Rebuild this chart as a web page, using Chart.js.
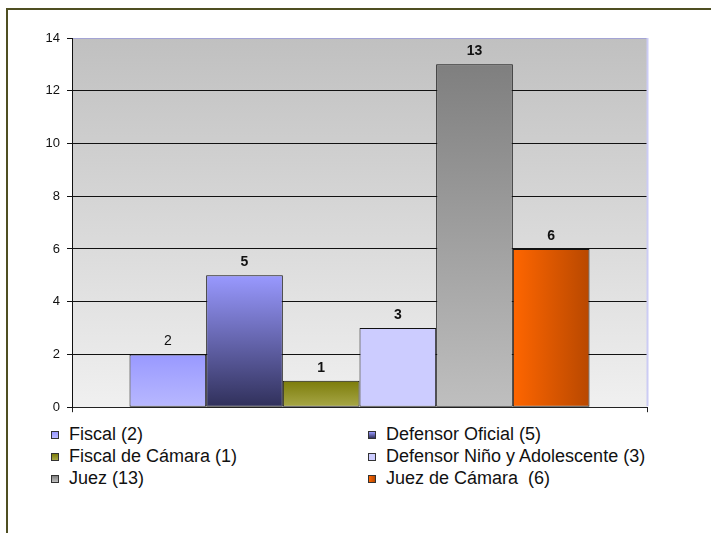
<!DOCTYPE html>
<html>
<head>
<meta charset="utf-8">
<script src="https://cdn.jsdelivr.net/npm/chart.js@4"></script>
<style>
  html, body { margin: 0; padding: 0; background: #fff; width: 711px; height: 533px; overflow: hidden; }
  #frame { position: absolute; left: 6px; top: 8px; width: 730px; height: 560px; border: 2px solid #4f4f22; box-sizing: border-box; }
  #c { position: absolute; left: 0; top: 0; }
  #legend { position: absolute; left: 51px; top: 423px; width: 640px; font-family: "Liberation Sans", Arial, sans-serif; font-size: 18px; line-height: 22px; color: #111; }
  .item { position: absolute; white-space: pre; display: flex; align-items: center; }
  .box { width: 6px; height: 6px; border: 1px solid #333; margin-right: 10px; margin-top: 1px; }
</style>
</head>
<body>
<div id="frame"></div>
<canvas id="c" width="711" height="422"></canvas>
<div id="legend"></div>
<script>
// Cargos y cantidades, tal como aparecen en el gráfico
const categories = ["Fiscal", "Defensor Oficial", "Fiscal de Cámara", "Defensor Niño y Adolescente", "Juez", "Juez de Cámara"];
const values = [2, 5, 1, 3, 13, 6];
const legendLabels = ["Fiscal (2)", "Defensor Oficial (5)", "Fiscal de Cámara (1)", "Defensor Niño y Adolescente (3)", "Juez (13)", "Juez de Cámara  (6)"];
const boldValue = [false, true, true, true, true, true];
const yMax = 14;
const yStep = 2;

// colores: [inicio, fin, dirección]
const FILLS = [
  ["#9999ff", "#b8b8ff", "v"],
  ["#9999ff", "#30305a", "v"],
  ["#7c7c0a", "#a8a848", "v"],
  ["#ccccff", "#ccccff", "v"],
  ["#7f7f7f", "#bfbfbf", "v"],
  ["#ff6600", "#b84800", "h"],
];
const FONT = "'Liberation Sans', Arial, sans-serif";
const CAT_PCT = 0.8;

function barFill(ctx) {
  const chart = ctx.chart;
  const area = chart.chartArea;
  const [c0, c1, dir] = FILLS[ctx.datasetIndex];
  if (!area) return c0;
  const g2d = chart.ctx;
  let g;
  if (dir === "h") {
    const bw = (area.right - area.left) * CAT_PCT / values.length;
    const left = chart.scales.x.getPixelForValue(0) - bw * values.length / 2 + bw * ctx.datasetIndex;
    g = g2d.createLinearGradient(left, 0, left + bw, 0);
  } else {
    const y = chart.scales.y;
    g = g2d.createLinearGradient(0, y.getPixelForValue(values[ctx.datasetIndex]), 0, y.getPixelForValue(0));
  }
  g.addColorStop(0, c0);
  g.addColorStop(1, c1);
  return g;
}

const plotFrame = {
  id: "plotFrame",
  beforeDraw(chart) {
    const { ctx, chartArea: a } = chart;
    const g = ctx.createLinearGradient(0, a.top, 0, a.bottom);
    g.addColorStop(0, "#c0c0c0");
    g.addColorStop(1, "#f0f0f0");
    ctx.save();
    ctx.fillStyle = g;
    ctx.fillRect(a.left, a.top, a.right - a.left, a.bottom - a.top);
    ctx.restore();
  },
  afterDraw(chart) {
    const { ctx, chartArea: a } = chart;
    ctx.save();
    ctx.strokeStyle = "#ccccf4";
    ctx.lineWidth = 2;
    ctx.beginPath();
    ctx.moveTo(a.right + 0.5, a.top);
    ctx.lineTo(a.right + 0.5, a.bottom - 1);
    ctx.stroke();
    ctx.restore();
  },
};

const valueLabels = {
  id: "valueLabels",
  afterDatasetsDraw(chart) {
    const ctx = chart.ctx;
    ctx.save();
    ctx.fillStyle = "#111";
    ctx.textAlign = "center";
    ctx.textBaseline = "middle";
    chart.data.datasets.forEach((ds, i) => {
      const el = chart.getDatasetMeta(i).data[0];
      ctx.font = (boldValue[i] ? "bold " : "") + "14px " + FONT;
      ctx.fillText(String(ds.data[0]), el.x, el.y - 13);
    });
    ctx.restore();
  },
};

new Chart(document.getElementById("c"), {
  type: "bar",
  data: {
    labels: [""],
    datasets: categories.map((name, i) => ({
      label: name,
      data: [values[i]],
      backgroundColor: barFill,
      borderColor: "#111",
      borderWidth: 1,
      borderSkipped: false,
      categoryPercentage: CAT_PCT,
      barPercentage: 1,
    })),
  },
  options: {
    responsive: false,
    animation: false,
    layout: { padding: { top: 38, left: 0, right: 64, bottom: 0 } },
    plugins: { legend: { display: false }, tooltip: { enabled: false } },
    scales: {
      x: {
        ticks: { display: false },
        grid: { drawOnChartArea: false, drawTicks: true, tickLength: 5, color: "#222" },
        border: { color: "#222", width: 1 },
        afterFit: (s) => { s.height = 8; },
      },
      y: {
        min: 0, max: yMax,
        ticks: { stepSize: yStep, color: "#111", padding: 7, font: { family: FONT, size: 13 } },
        grid: {
          color: (c) => (c.tick && c.tick.value === yMax ? "#a4a4d4" : "#111"),
          tickColor: "#111",
          tickLength: 5,
        },
        border: { color: "#111", width: 1 },
        afterFit: (s) => { s.width = 72; },
      },
    },
  },
  plugins: [plotFrame, valueLabels],
});

// leyenda en dos columnas
const legend = document.getElementById("legend");
legendLabels.forEach((txt, i) => {
  const [c0, c1, dir] = FILLS[i];
  const item = document.createElement("div");
  item.className = "item";
  item.style.left = (i % 2 ? 317 : 0) + "px";
  item.style.top = Math.floor(i / 2) * 22 + "px";
  const box = document.createElement("span");
  box.className = "box";
  box.style.background = "linear-gradient(" + (dir === "h" ? "to right" : "to bottom") + ", " + c0 + ", " + c1 + ")";
  item.appendChild(box);
  item.appendChild(document.createTextNode(txt));
  legend.appendChild(item);
});
</script>
</body>
</html>
